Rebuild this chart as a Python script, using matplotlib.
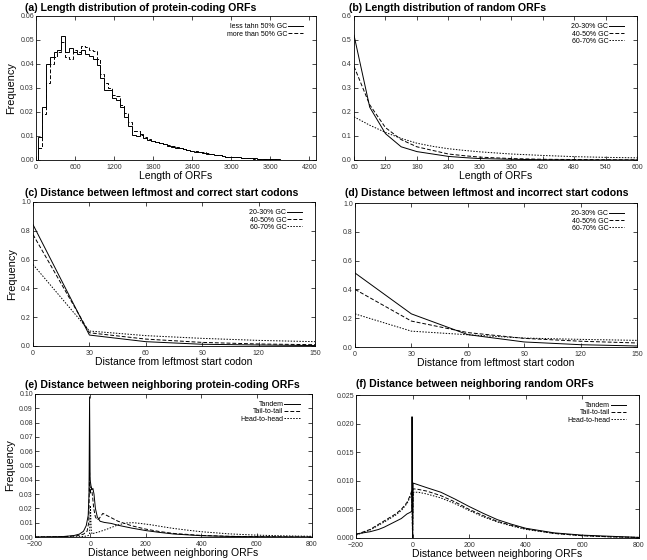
import matplotlib
matplotlib.use('Agg')
import matplotlib.pyplot as plt
from matplotlib.ticker import FormatStrFormatter
import numpy as np

plt.rcParams['font.family'] = ['Liberation Sans', 'DejaVu Sans']

W, H = 647, 560

# (a) histogram of protein-coding ORF lengths, bins of 60 starting at 30
hist_edges = np.arange(30, 4171, 60)
hist_low_gc = [0.0095, 0.022, 0.040, 0.043, 0.045, 0.046, 0.0515, 0.045, 0.0465, 0.045,
               0.044, 0.046, 0.044, 0.0435, 0.042, 0.0395, 0.034, 0.029, 0.029, 0.026,
               0.025, 0.022, 0.018, 0.014, 0.0105, 0.010, 0.011, 0.009, 0.0085, 0.008,
               0.0075, 0.007, 0.0065, 0.006, 0.0056, 0.0052, 0.0048, 0.0044, 0.0041, 0.0038,
               0.0035, 0.0032, 0.0030, 0.0027, 0.0024, 0.0021, 0.0019, 0.0016, 0.0014, 0.0013,
               0.0014, 0.0012, 0.0010, 0.0009, 0.0008, 0.0007, 0.0006, 0.0005, 0.0004, 0.0004,
               0.0003, 0.0003, 0.0002, 0.0002, 0.0001, 0.0001, 0.0001, 0.0, 0.0]
hist_high_gc = [0.005, 0.019, 0.032, 0.040, 0.043, 0.045, 0.049, 0.043, 0.042, 0.046,
                0.045, 0.0475, 0.047, 0.046, 0.0455, 0.042, 0.036, 0.032, 0.030, 0.027,
                0.0265, 0.023, 0.0195, 0.016, 0.012, 0.012, 0.0105, 0.0095, 0.0088, 0.008,
                0.0077, 0.0072, 0.0067, 0.0062, 0.0058, 0.0053, 0.0050, 0.0046, 0.0042, 0.0039,
                0.0036, 0.0033, 0.0032, 0.0028, 0.0025, 0.0022, 0.0019, 0.0016, 0.0013, 0.0012,
                0.0013, 0.0012, 0.0010, 0.0008, 0.0007, 0.0006, 0.0005, 0.0005, 0.0004, 0.0003,
                0.0003, 0.0002, 0.0002, 0.0001, 0.0001, 0.0001, 0.0, 0.0, 0.0]

# (b) random ORF lengths
rand_len = [60, 90, 120, 150, 180, 210, 240, 270, 300, 360, 420, 480, 540, 600]
rand_gc20 = [0.52, 0.22, 0.11, 0.055, 0.035, 0.025, 0.015, 0.010, 0.006, 0.003, 0.001, 0.0005, 0.0002, 0.0001]
rand_gc40 = [0.39, 0.23, 0.135, 0.085, 0.055, 0.040, 0.025, 0.018, 0.012, 0.006, 0.003, 0.002, 0.001, 0.0005]
rand_gc60 = [0.18, 0.145, 0.115, 0.090, 0.070, 0.057, 0.047, 0.040, 0.034, 0.025, 0.019, 0.014, 0.011, 0.009]

# (c), (d) distance from leftmost start codon
dist = [0, 30, 60, 90, 120, 150]
correct_gc20 = [0.843, 0.076, 0.030, 0.012, 0.007, 0.003]
correct_gc40 = [0.774, 0.092, 0.048, 0.025, 0.014, 0.009]
correct_gc60 = [0.566, 0.104, 0.072, 0.053, 0.039, 0.030]
wrong_gc20 = [0.514, 0.23, 0.086, 0.035, 0.016, 0.007]
wrong_gc40 = [0.40, 0.18, 0.10, 0.06, 0.04, 0.028]
wrong_gc60 = [0.23, 0.11, 0.085, 0.062, 0.053, 0.046]

# (e) neighbouring protein-coding ORFs
e_tandem_x = [-200, -100, -60, -40, -25, -15, -8, -5, -3, -1, 2, 5, 9, 13, 18, 25, 35, 50,
              75, 100, 150, 200, 250, 300, 400, 500, 600, 800]
e_tandem_y = [0.0, 0.0003, 0.001, 0.002, 0.004, 0.008, 0.015, 0.03, 0.098, 0.04, 0.036, 0.033,
              0.034, 0.03, 0.02, 0.014, 0.011, 0.0102, 0.0095, 0.0082, 0.0062, 0.0045, 0.0032,
              0.0021, 0.0009, 0.0004, 0.0002, 0.0]
e_tail_x = [-200, -100, -50, -25, -12, -6, -3, -1, 2, 5, 8, 12, 18, 25, 32, 45, 60, 80, 100,
            150, 200, 250, 300, 400, 500, 600, 800]
e_tail_y = [0.0, 0.0002, 0.0008, 0.002, 0.004, 0.01, 0.045, 0.03, 0.035, 0.033, 0.028, 0.02,
            0.014, 0.012, 0.013, 0.0165, 0.015, 0.013, 0.011, 0.0078, 0.0055, 0.0038, 0.0025,
            0.0011, 0.0005, 0.0002, 0.0]
e_head_x = [-200, -50, -20, -8, -3, 0, 3, 6, 10, 30, 60, 80, 100, 130, 155, 180, 220, 260,
            300, 350, 400, 500, 600, 700, 800]
e_head_y = [0.0, 0.0001, 0.0005, 0.001, 0.002, 0.022, 0.005, 0.002, 0.0025, 0.0035, 0.0055,
            0.007, 0.0085, 0.0098, 0.010, 0.0095, 0.0085, 0.0072, 0.006, 0.0048, 0.0037,
            0.0022, 0.0013, 0.0008, 0.0005]

# (f) neighbouring random ORFs
f_tandem_x = [-200, -150, -120, -100, -80, -60, -40, -20, -8, -3, -2, 0, 2, 50, 100, 150, 200,
              250, 300, 350, 400, 500, 600, 700, 800]
f_tandem_y = [0.0007, 0.0011, 0.0015, 0.0019, 0.0024, 0.0029, 0.0034, 0.0042, 0.0045, 0.0047,
              0.0212, 0.0, 0.0096, 0.0088, 0.0080, 0.0068, 0.0055, 0.0043, 0.0032, 0.0024,
              0.0017, 0.0009, 0.0005, 0.0003, 0.0001]
f_tail_x = [-200, -150, -100, -60, -40, -20, -8, -3, 0, 2, 20, 50, 100, 150, 200, 250, 300,
            350, 400, 500, 600, 700, 800]
f_tail_y = [0.0006, 0.0015, 0.003, 0.0042, 0.005, 0.0062, 0.0075, 0.0083, 0.0, 0.0086, 0.0085,
            0.0082, 0.0074, 0.0063, 0.005, 0.0039, 0.0029, 0.0022, 0.0016, 0.0008, 0.0004,
            0.0002, 0.0001]
f_head_x = [-200, -150, -100, -60, -40, -20, -8, -3, 0, 2, 20, 50, 100, 150, 200, 250, 300,
            350, 400, 500, 600, 700, 800]
f_head_y = [0.0005, 0.0014, 0.0028, 0.004, 0.0048, 0.006, 0.0072, 0.0079, 0.0, 0.008, 0.008,
            0.0077, 0.007, 0.006, 0.0048, 0.0037, 0.0028, 0.0021, 0.0015, 0.0008, 0.0004,
            0.0002, 0.0001]

gc_labels = ['20-30% GC', '40-50% GC', '60-70% GC']
nb_labels = ['Tandem', 'Tail-to-tail', 'Head-to-head']

SOLID = dict(color='black', lw=0.7, ls='-')
DASHED = dict(color='black', lw=0.7, ls=(0, (4, 2)))
DOTTED = dict(color='black', lw=0.7, ls=(0, (1.5, 1.5)))


def make_axes(fig, left, right, top, bottom):
    return fig.add_axes([left / W, 1 - bottom / H, (right - left) / W, (bottom - top) / H])


def style(ax, title, tx, ty, xlabel, ylabel, xticks, yticks, yfmt):
    ax.set_xticks(xticks)
    ax.set_yticks(yticks)
    ax.yaxis.set_major_formatter(FormatStrFormatter(yfmt))
    ax.tick_params(direction='in', top=True, right=True, length=3, width=0.5,
                   labelsize=5, pad=1.5, labelcolor='#333333')
    ax.tick_params(axis='x', pad=3)
    for s in ax.spines.values():
        s.set_linewidth(0.6)
    ax.set_xlabel(xlabel, fontsize=7.5, labelpad=0)
    if ylabel:
        ax.set_ylabel(ylabel, fontsize=7.8, labelpad=3)
    fig.text(tx / W, 1 - ty / H, title, fontsize=7.6, fontweight='bold', va='center', ha='left')


def legend(ax, dy=0.95):
    ax.legend(loc='upper right', bbox_to_anchor=(0.955, dy), frameon=False, fontsize=5,
              markerfirst=False, handlelength=2.2, handletextpad=0.1, labelspacing=0.05,
              borderaxespad=0, borderpad=0)


fig = plt.figure(figsize=(W / 100, H / 100), dpi=100)

# (a)
ax = make_axes(fig, 36, 316, 16, 160)
ax.stairs(hist_low_gc, hist_edges, baseline=0, label='less tahn 50% GC', **SOLID)
ax.stairs(hist_high_gc, hist_edges, baseline=0, label='more than 50% GC', **DASHED)
ax.set_xlim(0, 4300)
ax.set_ylim(0, 0.06)
style(ax, '(a) Length distribution of protein-coding ORFs', 25, 8, 'Length of ORFs', 'Frequency',
      [0, 600, 1200, 1800, 2400, 3000, 3600, 4200], np.arange(0, 0.061, 0.01), '%.2f')
legend(ax)

# (b)
ax = make_axes(fig, 354, 637, 16, 160)
ax.plot(rand_len, rand_gc20, label=gc_labels[0], **SOLID)
ax.plot(rand_len, rand_gc40, label=gc_labels[1], **DASHED)
ax.plot(rand_len, rand_gc60, label=gc_labels[2], **DOTTED)
ax.set_xlim(60, 600)
ax.set_ylim(0, 0.6)
style(ax, '(b) Length distribution of random ORFs', 349, 8, 'Length of ORFs', None,
      list(range(60, 601, 60)), np.arange(0, 0.61, 0.1), '%.1f')
legend(ax)

# (c)
ax = make_axes(fig, 33, 315, 202, 346)
ax.plot(dist, correct_gc20, label=gc_labels[0], **SOLID)
ax.plot(dist, correct_gc40, label=gc_labels[1], **DASHED)
ax.plot(dist, correct_gc60, label=gc_labels[2], **DOTTED)
ax.set_xlim(0, 150)
ax.set_ylim(0, 1.0)
style(ax, '(c) Distance between leftmost and correct start codons', 25, 193,
      'Distance from leftmost start codon', 'Frequency', dist, np.arange(0, 1.01, 0.2), '%.1f')
legend(ax)

# (d)
ax = make_axes(fig, 355, 637, 203, 347)
ax.plot(dist, wrong_gc20, label=gc_labels[0], **SOLID)
ax.plot(dist, wrong_gc40, label=gc_labels[1], **DASHED)
ax.plot(dist, wrong_gc60, label=gc_labels[2], **DOTTED)
ax.set_xlim(0, 150)
ax.set_ylim(0, 1.0)
style(ax, '(d) Distance between leftmost and incorrect start codons', 345, 193,
      'Distance from leftmost start codon', None, dist, np.arange(0, 1.01, 0.2), '%.1f')
legend(ax)

# (e)
ax = make_axes(fig, 35, 312, 394, 537)
ax.plot(e_tandem_x, e_tandem_y, label=nb_labels[0], **SOLID)
ax.plot(e_tail_x, e_tail_y, label=nb_labels[1], **DASHED)
ax.plot(e_head_x, e_head_y, label=nb_labels[2], **DOTTED)
ax.set_xlim(-200, 800)
ax.set_ylim(0, 0.1)
style(ax, '(e) Distance between neighboring protein-coding ORFs', 25, 385,
      'Distance between neighboring ORFs', 'Frequency', list(range(-200, 801, 200)),
      np.arange(0, 0.101, 0.01), '%.2f')
legend(ax)

# (f)
ax = make_axes(fig, 356, 639, 395, 538)
ax.plot(f_tandem_x, f_tandem_y, label=nb_labels[0], **SOLID)
ax.plot(f_tail_x, f_tail_y, label=nb_labels[1], **DASHED)
ax.plot(f_head_x, f_head_y, label=nb_labels[2], **DOTTED)
ax.set_xlim(-200, 800)
ax.set_ylim(0, 0.025)
style(ax, '(f) Distance between neighboring random ORFs', 356, 384,
      'Distance between neighboring ORFs', None, list(range(-200, 801, 200)),
      np.arange(0, 0.0251, 0.005), '%.3f')
legend(ax)

fig.savefig('out.png', dpi=100)
